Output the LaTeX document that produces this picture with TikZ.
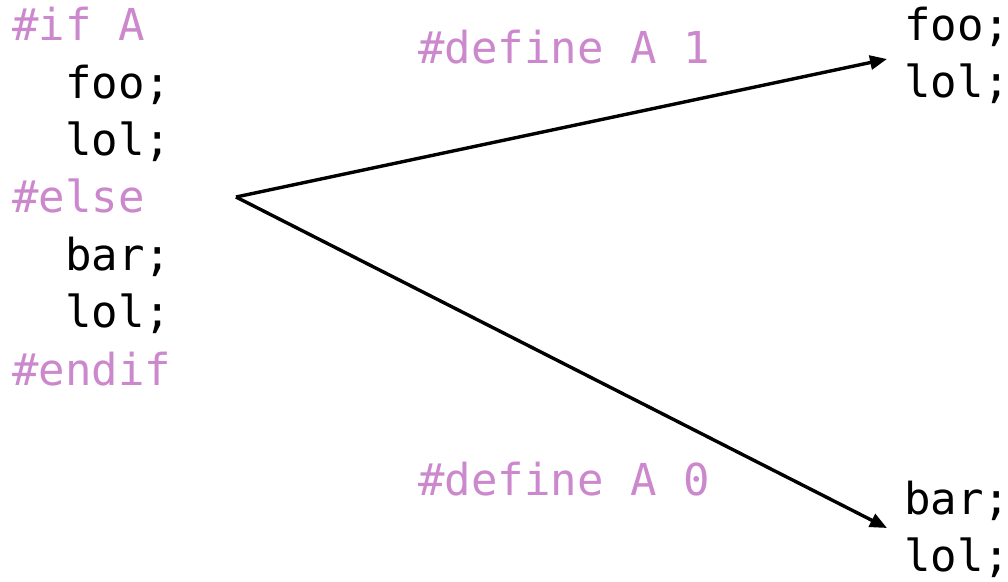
\documentclass[tikz,border=0pt]{standalone}
\usepackage{fontspec}
\newfontfamily\codefont{DejaVu Sans Mono}
\usetikzlibrary{arrows.meta}
\definecolor{pragma}{RGB}{204,136,204}
\tikzset{
  code/.style={font=\codefont\fontsize{44}{52}\selectfont, anchor=base west, inner sep=0pt},
  directive/.style={code, text=pragma},
  branch/.style={line width=3.4pt, -{Triangle[length=17pt,width=14pt]}}
}
\begin{document}
\begin{tikzpicture}[x=1pt,y=-1pt]
  \useasboundingbox (0,0) rectangle (1008,581);

  % Source with the conditional
  \node[directive] (ifA)   at (12,40)  {\#if A};
  \node[code]      (fooS)  at (65,98)  {foo;};
  \node[code]      (lolS)  at (65,155) {lol;};
  \node[directive] (else)  at (12,212) {\#else};
  \node[code]      (barS)  at (65,270) {bar;};
  \node[code]      (lolT)  at (65,327) {lol;};
  \node[directive] (endif) at (12,385) {\#endif};

  % Preprocessed results
  \node[code] (fooR) at (904,40)  {foo;};
  \node[code] (lolR) at (904,97)  {lol;};
  \node[code] (barR) at (904,514) {bar;};
  \node[code] (lolU) at (904,571) {lol;};

  % Branches
  \coordinate (fork) at (236,197);
  \coordinate (endA) at (887,59);
  \coordinate (endB) at (887,528);
  \draw[branch] (fork) -- (endA);
  \draw[branch] (fork) -- (endB);

  % Labels on the branches
  \node[directive] (defA) at (418,63)  {\#define A 1};
  \node[directive] (defB) at (418,495) {\#define A 0};
\end{tikzpicture}
\end{document}
